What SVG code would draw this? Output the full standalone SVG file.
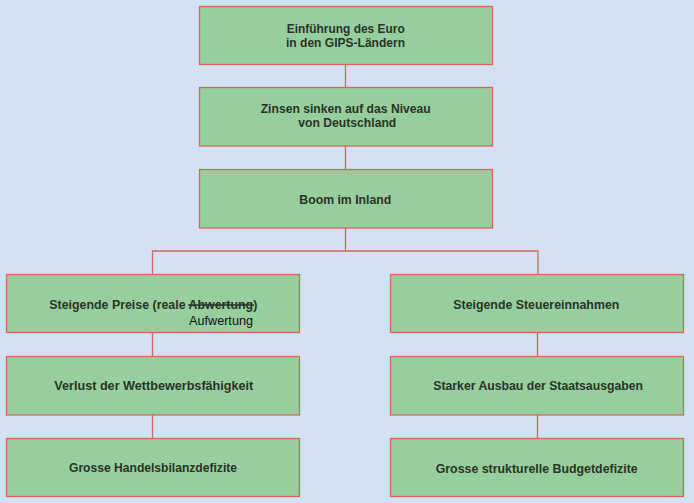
<svg xmlns="http://www.w3.org/2000/svg" width="694" height="503" viewBox="0 0 694 503">
<style>
.bg{fill:#d3e1f3}
.box{fill:#96ce9e;stroke:#d6675c;stroke-width:1.3}
.conn{stroke:#d6675c;stroke-width:1.3;fill:none}
.t{font-family:"Liberation Sans",Arial,sans-serif;font-weight:bold;font-size:13px;fill:#2a3327}
.r{font-family:"Liberation Sans",Arial,sans-serif;font-size:12.5px;fill:#111}
</style>
<rect class="bg" x="0" y="0" width="694" height="503"/>
<g id="connectors">
<path class="conn" d="M345.5 64.5V87.5M345.5 146V169.5M345.5 228V251M152.5 274.5V251H538V274.5M152.5 332.5V356.5M152.5 414.5V438.5M537.5 332.5V356.5M537.5 414.5V438.5"/>
</g>
<g id="n1">
<rect class="box" x="199.5" y="6.5" width="293" height="58"/>
<text class="t" x="286.7" y="32.5" textLength="118" lengthAdjust="spacingAndGlyphs">Einführung des Euro</text>
<text class="t" x="286" y="46.7" textLength="119" lengthAdjust="spacingAndGlyphs">in den GIPS-Ländern</text>
</g>
<g id="n2">
<rect class="box" x="199.5" y="87.5" width="293" height="58.5"/>
<text class="t" x="260.7" y="112.7" textLength="170" lengthAdjust="spacingAndGlyphs">Zinsen sinken auf das Niveau</text>
<text class="t" x="298.3" y="127.3" textLength="98" lengthAdjust="spacingAndGlyphs">von Deutschland</text>
</g>
<g id="n3">
<rect class="box" x="199.5" y="169.5" width="293" height="58.5"/>
<text class="t" x="299.3" y="204" textLength="92" lengthAdjust="spacingAndGlyphs">Boom im Inland</text>
</g>
<g id="l1">
<rect class="box" x="6.5" y="274.5" width="293" height="58"/>
<text class="t" x="49.3" y="308.5" textLength="208" lengthAdjust="spacingAndGlyphs">Steigende Preise (reale Abwertung)</text>
<line x1="188.3" y1="305" x2="254" y2="305" stroke="#2a3327" stroke-width="1.4"/>
<text class="r" x="189" y="324.5" textLength="64" lengthAdjust="spacingAndGlyphs">Aufwertung</text>
</g>
<g id="l2">
<rect class="box" x="6.5" y="356.5" width="293" height="58.5"/>
<text class="t" x="54.3" y="390" textLength="199" lengthAdjust="spacingAndGlyphs">Verlust der Wettbewerbsfähigkeit</text>
</g>
<g id="l3">
<rect class="box" x="6.5" y="438.5" width="293" height="58"/>
<text class="t" x="69" y="472.3" textLength="168" lengthAdjust="spacingAndGlyphs">Grosse Handelsbilanzdefizite</text>
</g>
<g id="r1">
<rect class="box" x="390.5" y="274.5" width="293" height="58"/>
<text class="t" x="453.3" y="309" textLength="166" lengthAdjust="spacingAndGlyphs">Steigende Steuereinnahmen</text>
</g>
<g id="r2">
<rect class="box" x="390.5" y="356.5" width="293" height="58.5"/>
<text class="t" x="433.3" y="390" textLength="209.7" lengthAdjust="spacingAndGlyphs">Starker Ausbau der Staatsausgaben</text>
</g>
<g id="r3">
<rect class="box" x="390.5" y="438.5" width="293" height="58"/>
<text class="t" x="435.7" y="472.7" textLength="202" lengthAdjust="spacingAndGlyphs">Grosse strukturelle Budgetdefizite</text>
</g>
</svg>
